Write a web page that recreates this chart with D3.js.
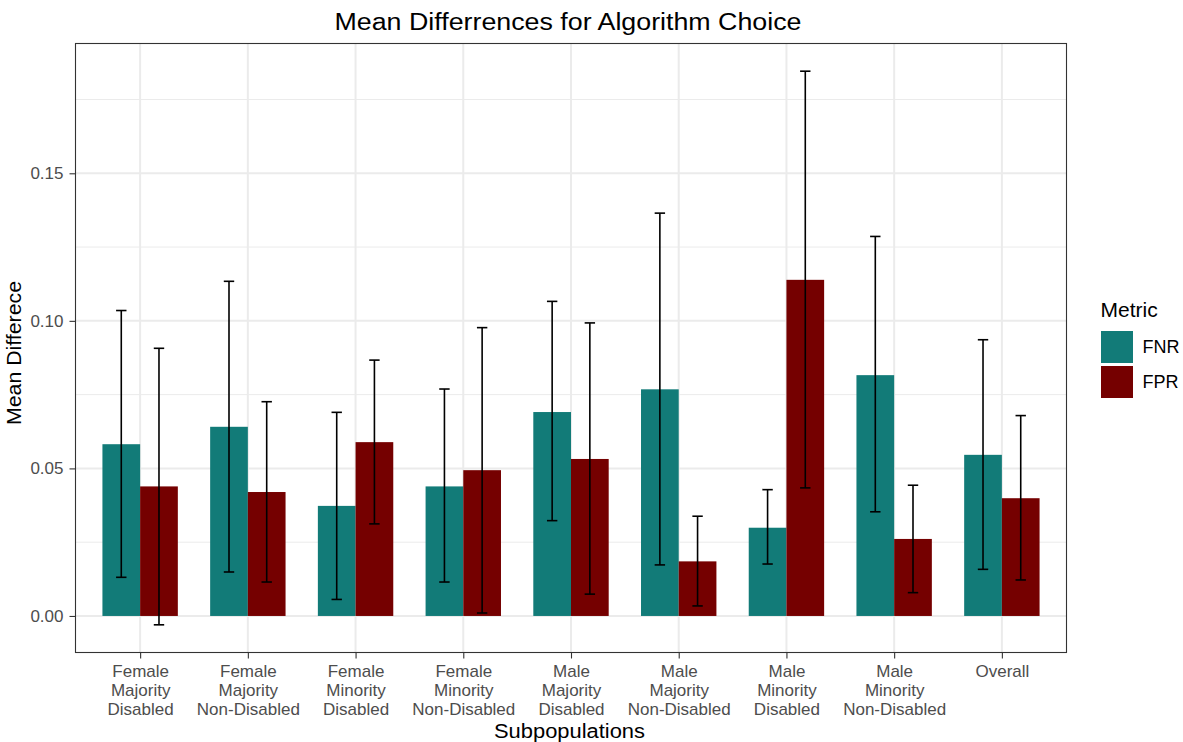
<!DOCTYPE html>
<html>
<head>
<meta charset="utf-8">
<script src="https://cdn.jsdelivr.net/npm/d3@7"></script>
<style>
  body { margin: 0; background: #fff; }
  svg { display: block; font-family: "Liberation Sans", Arial, Helvetica, sans-serif; }
</style>
</head>
<body>
<svg id="chart" width="1183" height="742"></svg>
<script>
const categories = [
  "Female\nMajority\nDisabled",
  "Female\nMajority\nNon-Disabled",
  "Female\nMinority\nDisabled",
  "Female\nMinority\nNon-Disabled",
  "Male\nMajority\nDisabled",
  "Male\nMajority\nNon-Disabled",
  "Male\nMinority\nDisabled",
  "Male\nMinority\nNon-Disabled",
  "Overall"
];
const metrics = ["FNR", "FPR"];
const fnrMean  = [0.0582, 0.0641, 0.0373, 0.0439, 0.0691, 0.0768, 0.0299, 0.0816, 0.0546];
const fnrLower = [0.0131, 0.0149, 0.0056, 0.0115, 0.0323, 0.0173, 0.0176, 0.0353, 0.0158];
const fnrUpper = [0.1035, 0.1134, 0.0690, 0.0769, 0.1066, 0.1365, 0.0428, 0.1286, 0.0936];
const fprMean  = [0.0439, 0.0420, 0.0589, 0.0494, 0.0532, 0.0185, 0.1139, 0.0261, 0.0399];
const fprLower = [-0.0030, 0.0115, 0.0312, 0.0010, 0.0074, 0.0034, 0.0434, 0.0079, 0.0122];
const fprUpper = [0.0907, 0.0726, 0.0867, 0.0977, 0.0993, 0.0338, 0.1846, 0.0443, 0.0679];
const yTicks = [0.00, 0.05, 0.10, 0.15];
const yMinor = [0.025, 0.075, 0.125, 0.175];
const colors = {FNR: "#127b78", FPR: "#750000"};

const data = [];
categories.forEach((c, i) => {
  data.push({cat: c, metric: "FNR", mean: fnrMean[i], lo: fnrLower[i], hi: fnrUpper[i]});
  data.push({cat: c, metric: "FPR", mean: fprMean[i], lo: fprLower[i], hi: fprUpper[i]});
});

const FONT = "'Liberation Sans', Arial, Helvetica, sans-serif";
const svg = d3.select("#chart");
const P = {left: 75.5, right: 1066.5, top: 43.5, bottom: 652.5};

// y scale with ggplot-like 5% expansion
const allVals = data.flatMap(d => [d.lo, d.hi, 0]);
const yMinD = d3.min(allVals), yMaxD = d3.max(allVals);
const pad = (yMaxD - yMinD) * 0.05;
const y = d3.scaleLinear().domain([yMinD - pad, yMaxD + pad]).range([P.bottom, P.top]);

// x discrete scale with 0.6 expansion
const n = categories.length;
const unit = (P.right - P.left) / (n - 1 + 1.2);
const x = d3.scalePoint().domain(categories).range([P.left + 0.6 * unit, P.right - 0.6 * unit]);
const sub = d3.scaleBand().domain(metrics).range([-0.35 * unit, 0.35 * unit]).padding(0);

// panel background
svg.append("rect").attr("x", P.left).attr("y", P.top)
  .attr("width", P.right - P.left).attr("height", P.bottom - P.top).attr("fill", "#fff");

const grid = svg.append("g");
yMinor.forEach(v => {
  if (y(v) > P.top) grid.append("line").attr("x1", P.left).attr("x2", P.right)
    .attr("y1", y(v)).attr("y2", y(v)).attr("stroke", "#ebebeb").attr("stroke-width", 1);
});
yTicks.forEach(v => {
  grid.append("line").attr("x1", P.left).attr("x2", P.right)
    .attr("y1", y(v)).attr("y2", y(v)).attr("stroke", "#ebebeb").attr("stroke-width", 2);
});
categories.forEach(c => {
  grid.append("line").attr("x1", x(c)).attr("x2", x(c))
    .attr("y1", P.top).attr("y2", P.bottom).attr("stroke", "#ebebeb").attr("stroke-width", 2);
});

// bars
svg.append("g").selectAll("rect").data(data).join("rect")
  .attr("x", d => x(d.cat) + sub(d.metric))
  .attr("width", sub.bandwidth())
  .attr("y", d => y(Math.max(0, d.mean)))
  .attr("height", d => Math.abs(y(d.mean) - y(0)))
  .attr("fill", d => colors[d.metric]);

// error bars
const capHalf = 5.2;
const eb = svg.append("g").attr("stroke", "#000").attr("stroke-width", 1.6);
data.forEach(d => {
  const cx = x(d.cat) + sub(d.metric) + sub.bandwidth() / 2;
  eb.append("line").attr("x1", cx).attr("x2", cx).attr("y1", y(d.lo)).attr("y2", y(d.hi));
  eb.append("line").attr("x1", cx - capHalf).attr("x2", cx + capHalf).attr("y1", y(d.lo)).attr("y2", y(d.lo));
  eb.append("line").attr("x1", cx - capHalf).attr("x2", cx + capHalf).attr("y1", y(d.hi)).attr("y2", y(d.hi));
});

// panel border
svg.append("rect").attr("x", P.left).attr("y", P.top)
  .attr("width", P.right - P.left).attr("height", P.bottom - P.top)
  .attr("fill", "none").attr("stroke", "#333").attr("stroke-width", 1.1);

// y axis
const yAxis = svg.append("g").attr("transform", `translate(${P.left},0)`)
  .call(d3.axisLeft(y).tickValues(yTicks).tickFormat(d3.format(".2f")).tickSize(6).tickPadding(6));
yAxis.select(".domain").remove();
yAxis.selectAll(".tick line").attr("stroke", "#333").attr("stroke-width", 1.1);
yAxis.selectAll(".tick text").attr("fill", "#4d4d4d").style("font-size", "17px")
  .style("font-family", FONT);

// x axis
const xAxis = svg.append("g").attr("transform", `translate(0,${P.bottom})`)
  .call(d3.axisBottom(x).tickSize(6).tickFormat(""));
xAxis.select(".domain").remove();
xAxis.selectAll(".tick line").attr("stroke", "#333").attr("stroke-width", 1.1);
xAxis.selectAll(".tick").each(function(c) {
  const t = d3.select(this).append("text").attr("fill", "#4d4d4d")
    .attr("text-anchor", "middle").style("font-size", "17px")
    .style("font-family", FONT);
  c.split("\n").forEach((line, i) => {
    t.append("tspan").attr("x", 0).attr("y", 24.5 + i * 19).text(line);
  });
});

// titles
svg.append("text").attr("x", 568).attr("y", 30)
  .attr("text-anchor", "middle").attr("fill", "#000").style("font-size", "23px")
  .attr("textLength", 467).attr("lengthAdjust", "spacingAndGlyphs")
  .text("Mean Differrences for Algorithm Choice");
svg.append("text").attr("x", 569.5).attr("y", 738)
  .attr("text-anchor", "middle").attr("fill", "#000").style("font-size", "20px")
  .attr("textLength", 151).attr("lengthAdjust", "spacingAndGlyphs")
  .text("Subpopulations");
svg.append("text").attr("transform", `translate(21,353) rotate(-90)`)
  .attr("text-anchor", "middle").attr("fill", "#000").style("font-size", "20px")
  .attr("textLength", 144).attr("lengthAdjust", "spacingAndGlyphs")
  .text("Mean Differece");

// legend
const lg = svg.append("g");
lg.append("text").attr("x", 1100.5).attr("y", 316.5).attr("fill", "#000").style("font-size", "21px").text("Metric");
metrics.forEach((m, i) => {
  lg.append("rect").attr("x", 1101).attr("y", 331 + i * 35).attr("width", 32).attr("height", 32)
    .attr("fill", colors[m]);
  lg.append("text").attr("x", 1142.5).attr("y", 353.3 + i * 35).attr("fill", "#000")
    .style("font-size", "18px").text(m);
});
</script>
</body>
</html>
